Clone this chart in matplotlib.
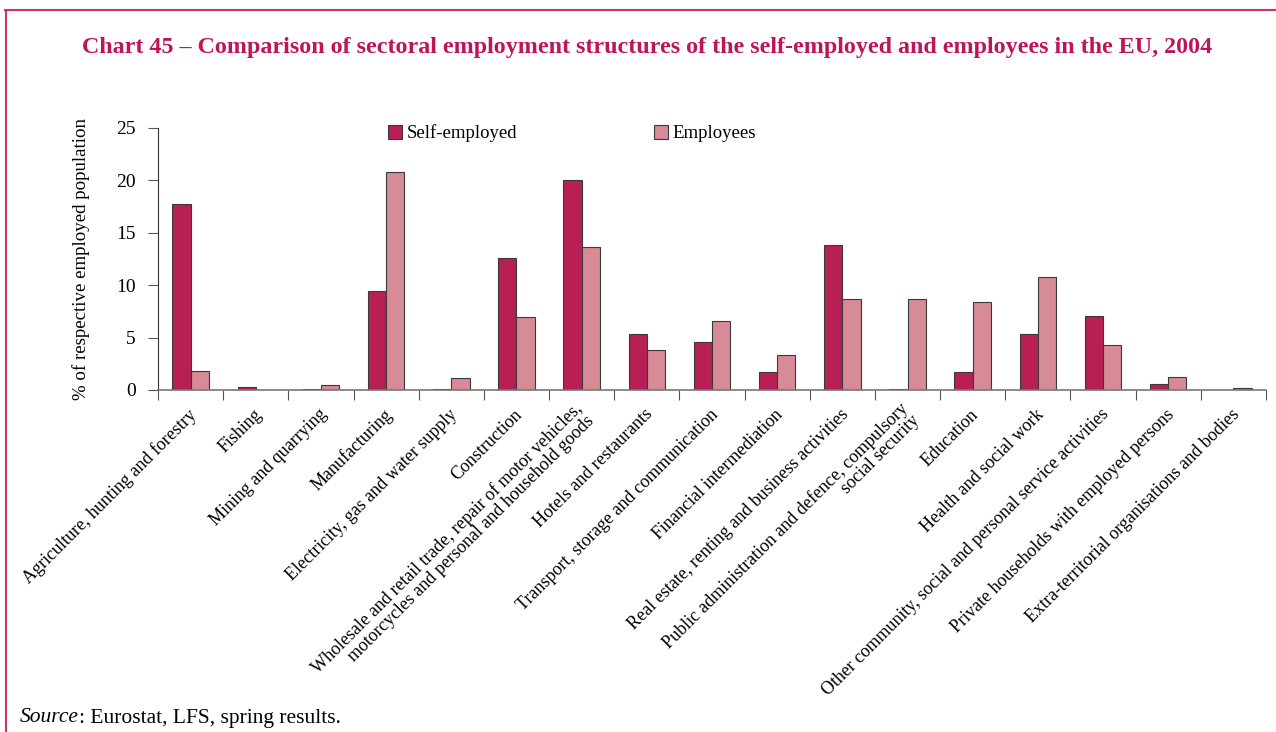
import numpy as np
import matplotlib.pyplot as plt

plt.rcParams['font.family'] = ['Liberation Serif', 'DejaVu Serif']

# sectors and shares (% of respective employed population)
sectors = [
    'Agriculture, hunting and forestry',
    'Fishing',
    'Mining and quarrying',
    'Manufacturing',
    'Electricity, gas and water supply',
    'Construction',
    'Wholesale and retail trade, repair of motor vehicles,\nmotorcycles and personal and household goods',
    'Hotels and restaurants',
    'Transport, storage and communication',
    'Financial intermediation',
    'Real estate, renting and business activities',
    'Public administration and defence, compulsory\nsocial security',
    'Education',
    'Health and social work',
    'Other community, social and personal service activities',
    'Private households with employed persons',
    'Extra-territorial organisations and bodies',
]
self_employed = [17.75, 0.3, 0.1, 9.45, 0.1, 12.6, 20.0, 5.35, 4.6, 1.7, 13.85, 0.1, 1.7, 5.35, 7.05, 0.55, 0.0]
employees = [1.8, 0.0, 0.45, 20.8, 1.1, 7.0, 13.65, 3.8, 6.6, 3.35, 8.7, 8.7, 8.4, 10.8, 4.3, 1.25, 0.15]

se_col = '#B71F55'
emp_col = '#D68B96'
pink = '#D0306F'

fig = plt.figure(figsize=(12.76, 7.32), dpi=100)
ax = fig.add_axes([158/1276, 1-390/732, (1266-158)/1276, (390-128)/732])

x = np.arange(len(sectors))
w = 0.28
ax.bar(x - w/2, self_employed, w, color=se_col, edgecolor='#3a3a3a', linewidth=0.8, label='Self-employed')
ax.bar(x + w/2, employees, w, color=emp_col, edgecolor='#3a3a3a', linewidth=0.8, label='Employees')

ax.set_xlim(-0.5, len(sectors) - 0.5)
ax.set_ylim(0, 25)
ax.set_yticks([0, 5, 10, 15, 20, 25])
ax.tick_params(axis='y', labelsize=14, length=7, width=0.8, color='#555555', pad=9)

# ticks at category boundaries, labels at category centres
ax.set_xticks(np.arange(len(sectors) + 1) - 0.5)
ax.set_xticklabels([])
ax.tick_params(axis='x', length=7, width=0.8, color='#555555')
for i, s in enumerate(sectors):
    ax.text(i + 0.05, -2.1, s, rotation=45, rotation_mode='anchor', ha='right', va='center',
            multialignment='right', fontsize=13, linespacing=0.95, transform=ax.transData)

for side in ['top', 'right']:
    ax.spines[side].set_visible(False)
ax.spines['left'].set_color('#333333')
ax.spines['bottom'].set_color('#777777')
ax.spines['left'].set_linewidth(0.8)
ax.spines['bottom'].set_linewidth(1.2)

ax.set_ylabel('% of respective employed population', fontsize=13.6)
ax.yaxis.set_label_coords(-0.061, 0.5)

ax.legend(loc='center left', bbox_to_anchor=(0.192, 0.98), ncol=2, frameon=False, fontsize=13.5,
          columnspacing=7.3, handlelength=0.75, handleheight=0.75, handletextpad=0.25)

fig.text(647/1276, 1-48/732, 'Chart 45 – Comparison of sectoral employment structures of the self-employed and employees in the EU, 2004',
         ha='center', va='center', fontsize=17.3, fontweight='bold', color='#BE1458')

src = fig.text(20/1276, 1-718/732, 'Source', style='italic', fontsize=15.5, va='center')
plt.annotate(': Eurostat, LFS, spring results.', xy=(1, 0), xycoords=src, va='bottom', fontsize=15.5)

# page frame (top and left)
fig.add_artist(plt.Line2D([5/1276, 1], [1-10/732, 1-10/732], color=pink, lw=1.5, transform=fig.transFigure))
fig.add_artist(plt.Line2D([6/1276, 6/1276], [0, 1-10/732], color=pink, lw=1.5, transform=fig.transFigure))

fig.savefig('out.png', dpi=100)
